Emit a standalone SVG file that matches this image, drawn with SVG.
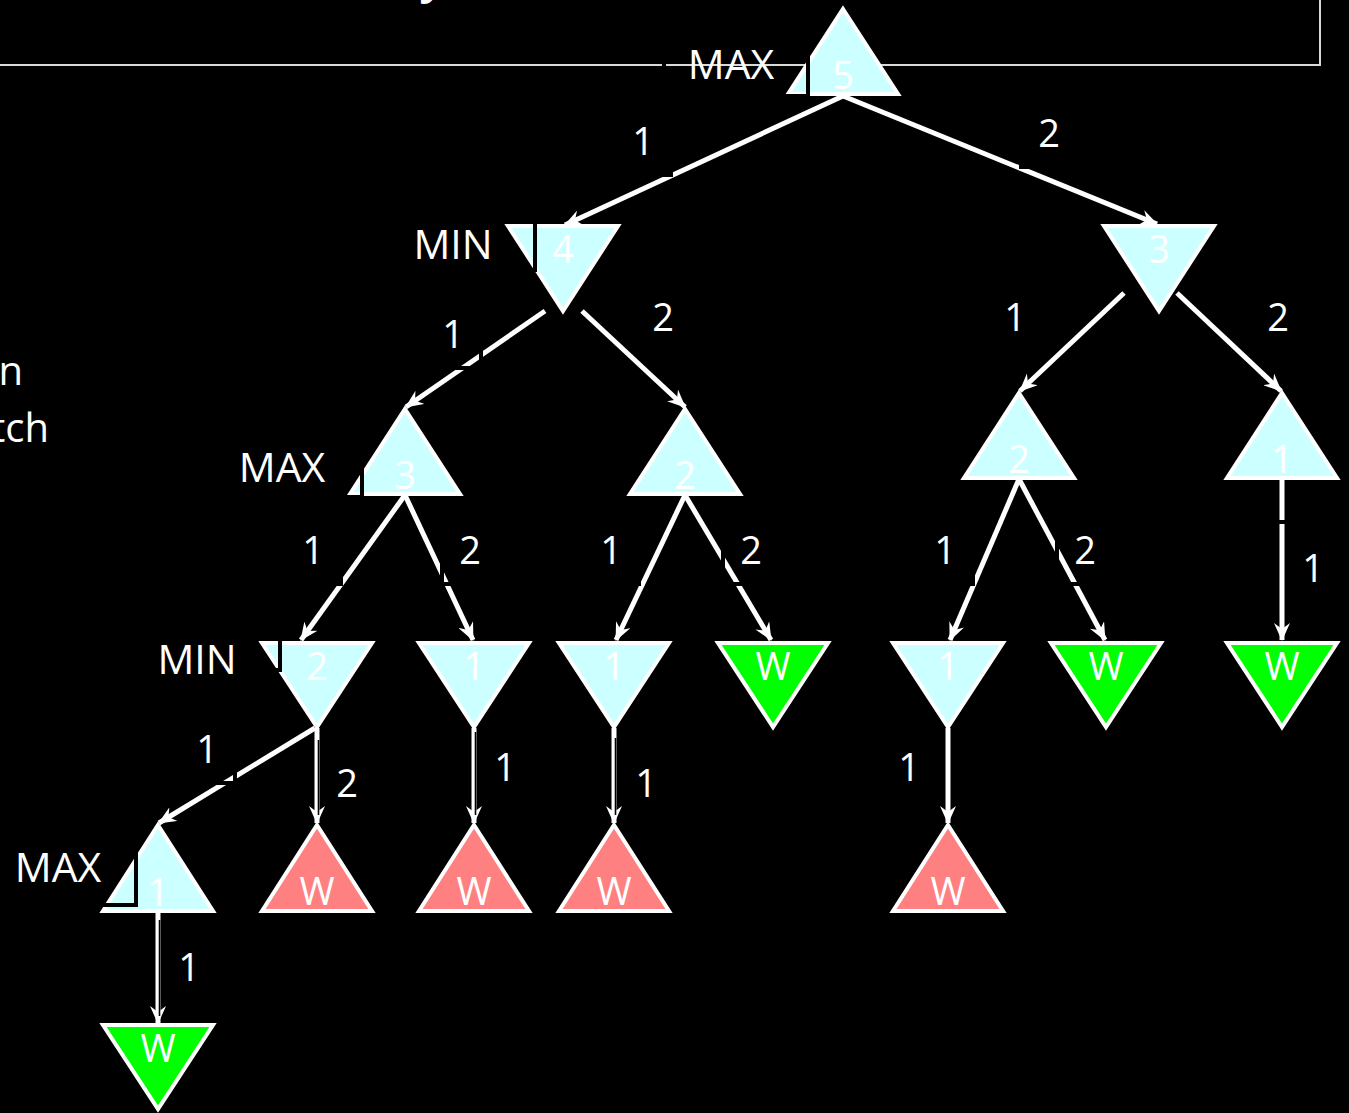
<svg xmlns="http://www.w3.org/2000/svg" width="1349" height="1113" viewBox="0 0 1349 1113">
  <defs>
    <marker id="arrow" markerUnits="userSpaceOnUse" markerWidth="18" markerHeight="16" viewBox="0 0 18 16" refX="17" refY="8" orient="auto">
      <path d="M18,8 L0,0 L6,8 L0,16 Z" fill="#ffffff"/>
    </marker>
    <style>
      .bg { fill: #000000; }
      .frame { stroke: #d9d9d9; stroke-width: 2; fill: none; }
      .edge { stroke: #ffffff; stroke-width: 5; fill: none; marker-end: url(#arrow); }
      .cut { stroke: #000000; stroke-width: 4; fill: none; }
      .hair { stroke: #000000; stroke-width: 1.6; fill: none; }
      .tri { stroke: #ffffff; stroke-width: 4; stroke-linejoin: miter; stroke-miterlimit: 3; }
      .open { fill: #ccffff; }
      .win { fill: #00ff00; }
      .loss { fill: #ff8080; }
      text { font-family: "Open Sans", "Liberation Sans", sans-serif; fill: #ffffff; }
      .val { font-size: 38px; text-anchor: middle; }
      .lvl { font-size: 41px; text-anchor: middle; }
      .num { font-size: 38px; text-anchor: middle; }
      .side { font-size: 40px; text-anchor: end; }
    </style>
  </defs>

  <rect class="bg" x="0" y="0" width="1349" height="1113"/>

  <!-- heading fragment and side text running off the canvas -->
  <text x="424" y="-7" style="font-size:44px;font-style:italic;font-weight:bold;">y</text>
  <text class="side" x="23" y="385">n</text>
  <text class="side" x="49" y="442">tch</text>

  <!-- title frame -->
  <path class="frame" d="M0,65 H1320 V0"/>

  <!-- connectors -->
  <g id="connectors">
    <line class="edge" x1="843" y1="96" x2="565" y2="225"/>
    <line class="edge" x1="843" y1="96" x2="1157" y2="224"/>
    <line class="edge" x1="545" y1="311" x2="406" y2="407"/>
    <line class="edge" x1="582" y1="311" x2="685" y2="407"/>
    <line class="edge" x1="1124" y1="293" x2="1020" y2="391"/>
    <line class="edge" x1="1177" y1="293" x2="1281" y2="391"/>
    <line class="edge" x1="405" y1="495" x2="301" y2="640"/>
    <line class="edge" x1="405" y1="495" x2="473" y2="640"/>
    <line class="edge" x1="685" y1="495" x2="616" y2="640"/>
    <line class="edge" x1="685" y1="495" x2="771" y2="640"/>
    <line class="edge" x1="1019" y1="479" x2="950" y2="640"/>
    <line class="edge" x1="1019" y1="479" x2="1105" y2="640"/>
    <line class="edge" x1="1282" y1="479" x2="1282" y2="640"/>
    <line class="edge" x1="315" y1="728" x2="159" y2="823"/>
    <line class="edge" x1="317" y1="728" x2="317" y2="823"/>
    <line class="edge" x1="474" y1="728" x2="474" y2="823"/>
    <line class="edge" x1="614" y1="728" x2="614" y2="823"/>
    <line class="edge" x1="948" y1="728" x2="948" y2="823"/>
    <line class="edge" x1="158" y1="913" x2="158" y2="1023"/>

    <!-- label box borders crossing the connectors -->
    <rect class="cut" x="613" y="113" width="58" height="62"/>
    <rect class="cut" x="1021" y="105" width="58" height="62"/>
    <rect class="cut" x="423" y="306" width="58" height="62"/>
    <rect class="cut" x="1250" y="289" width="58" height="62"/>
    <rect class="cut" x="283" y="522" width="58" height="62"/>
    <rect class="cut" x="442" y="522" width="58" height="62"/>
    <rect class="cut" x="581" y="522" width="58" height="62"/>
    <rect class="cut" x="723" y="522" width="58" height="62"/>
    <rect class="cut" x="915" y="522" width="58" height="62"/>
    <rect class="cut" x="1057" y="522" width="58" height="62"/>
    <rect class="cut" x="177" y="721" width="58" height="62"/>
    <line class="hair" x1="318.5" y1="740" x2="318.5" y2="815"/>
    <line class="hair" x1="475.5" y1="732" x2="475.5" y2="815"/>
    <line class="hair" x1="615.5" y1="738" x2="615.5" y2="815"/>
    <line class="hair" x1="159.5" y1="920" x2="159.5" y2="1016"/>
    <line class="cut" x1="1276" y1="522" x2="1290" y2="522"/>

    <text class="num" x="643" y="155">1</text>
    <text class="num" x="1049" y="147">2</text>
    <text class="num" x="453" y="348">1</text>
    <text class="num" x="663" y="331">2</text>
    <text class="num" x="1015" y="331">1</text>
    <text class="num" x="1278" y="331">2</text>
    <text class="num" x="313" y="564">1</text>
    <text class="num" x="470" y="564">2</text>
    <text class="num" x="611" y="564">1</text>
    <text class="num" x="751" y="564">2</text>
    <text class="num" x="945" y="564">1</text>
    <text class="num" x="1085" y="564">2</text>
    <text class="num" x="1313" y="582">1</text>
    <text class="num" x="207" y="763">1</text>
    <text class="num" x="347" y="797">2</text>
    <text class="num" x="505" y="781">1</text>
    <text class="num" x="646" y="797">1</text>
    <text class="num" x="909" y="781">1</text>
    <text class="num" x="189" y="981">1</text>
  </g>

  <!-- level 0 -->
  <g id="n-root">
    <polygon class="tri open" points="843,9 898,94 788,94"/>
    <text class="val" x="843" y="89">5</text>
    <rect class="cut" x="664" y="36" width="144" height="60"/>
    <text class="lvl" x="731" y="79">MAX</text>
  </g>

  <!-- level 1 -->
  <g id="n-l">
    <polygon class="tri open" points="508,226 618,226 563,311"/>
    <text class="val" x="563" y="263">4</text>
    <rect class="cut" x="398" y="212" width="137" height="58"/>
    <text class="lvl" x="453" y="259">MIN</text>
  </g>
  <g id="n-r">
    <polygon class="tri open" points="1104,226 1214,226 1159,311"/>
    <text class="val" x="1159" y="263">3</text>
  </g>

  <!-- level 2 -->
  <g id="n-ll">
    <polygon class="tri open" points="405,409 460,494 350,494"/>
    <text class="val" x="405" y="489">3</text>
    <rect class="cut" x="225" y="438" width="137" height="59"/>
    <text class="lvl" x="282" y="482">MAX</text>
  </g>
  <g id="n-lr">
    <polygon class="tri open" points="685,409 740,494 630,494"/>
    <text class="val" x="685" y="489">2</text>
  </g>
  <g id="n-rl">
    <polygon class="tri open" points="1019,393 1074,478 964,478"/>
    <text class="val" x="1019" y="473">2</text>
  </g>
  <g id="n-rr">
    <polygon class="tri open" points="1282,393 1337,478 1227,478"/>
    <text class="val" x="1282" y="473">1</text>
  </g>

  <!-- level 3 -->
  <g id="n-lll">
    <polygon class="tri open" points="262,643 372,643 317,727"/>
    <text class="val" x="317" y="680">2</text>
    <rect class="cut" x="140" y="628" width="140" height="42"/>
    <text class="lvl" x="197" y="674">MIN</text>
  </g>
  <g id="n-llr">
    <polygon class="tri open" points="419,643 529,643 474,727"/>
    <text class="val" x="474" y="680">1</text>
  </g>
  <g id="n-lrl">
    <polygon class="tri open" points="559,643 669,643 614,727"/>
    <text class="val" x="614" y="680">1</text>
  </g>
  <g id="n-lrr">
    <polygon class="tri win" points="718,643 828,643 773,727"/>
    <text class="val" x="773" y="680">W</text>
  </g>
  <g id="n-rll">
    <polygon class="tri open" points="893,643 1003,643 948,727"/>
    <text class="val" x="948" y="680">1</text>
  </g>
  <g id="n-rlr">
    <polygon class="tri win" points="1051,643 1161,643 1106,727"/>
    <text class="val" x="1106" y="680">W</text>
  </g>
  <g id="n-rrl">
    <polygon class="tri win" points="1227,643 1337,643 1282,727"/>
    <text class="val" x="1282" y="680">W</text>
  </g>

  <!-- level 4 -->
  <g id="n-llll">
    <polygon class="tri open" points="158,825 213,911 103,911"/>
    <text class="val" x="158" y="906">1</text>
    <rect class="cut" x="0" y="840" width="136" height="65"/>
    <text class="lvl" x="58" y="882">MAX</text>
  </g>
  <g id="n-lllr">
    <polygon class="tri loss" points="317,825 372,911 262,911"/>
    <text class="val" x="317" y="905">W</text>
  </g>
  <g id="n-llrl">
    <polygon class="tri loss" points="474,825 529,911 419,911"/>
    <text class="val" x="474" y="905">W</text>
  </g>
  <g id="n-lrll">
    <polygon class="tri loss" points="614,825 669,911 559,911"/>
    <text class="val" x="614" y="905">W</text>
  </g>
  <g id="n-rlll">
    <polygon class="tri loss" points="948,825 1003,911 893,911"/>
    <text class="val" x="948" y="905">W</text>
  </g>

  <!-- level 5 -->
  <g id="n-lllll">
    <polygon class="tri win" points="103,1025 213,1025 158,1109"/>
    <text class="val" x="158" y="1062">W</text>
  </g>
</svg>
